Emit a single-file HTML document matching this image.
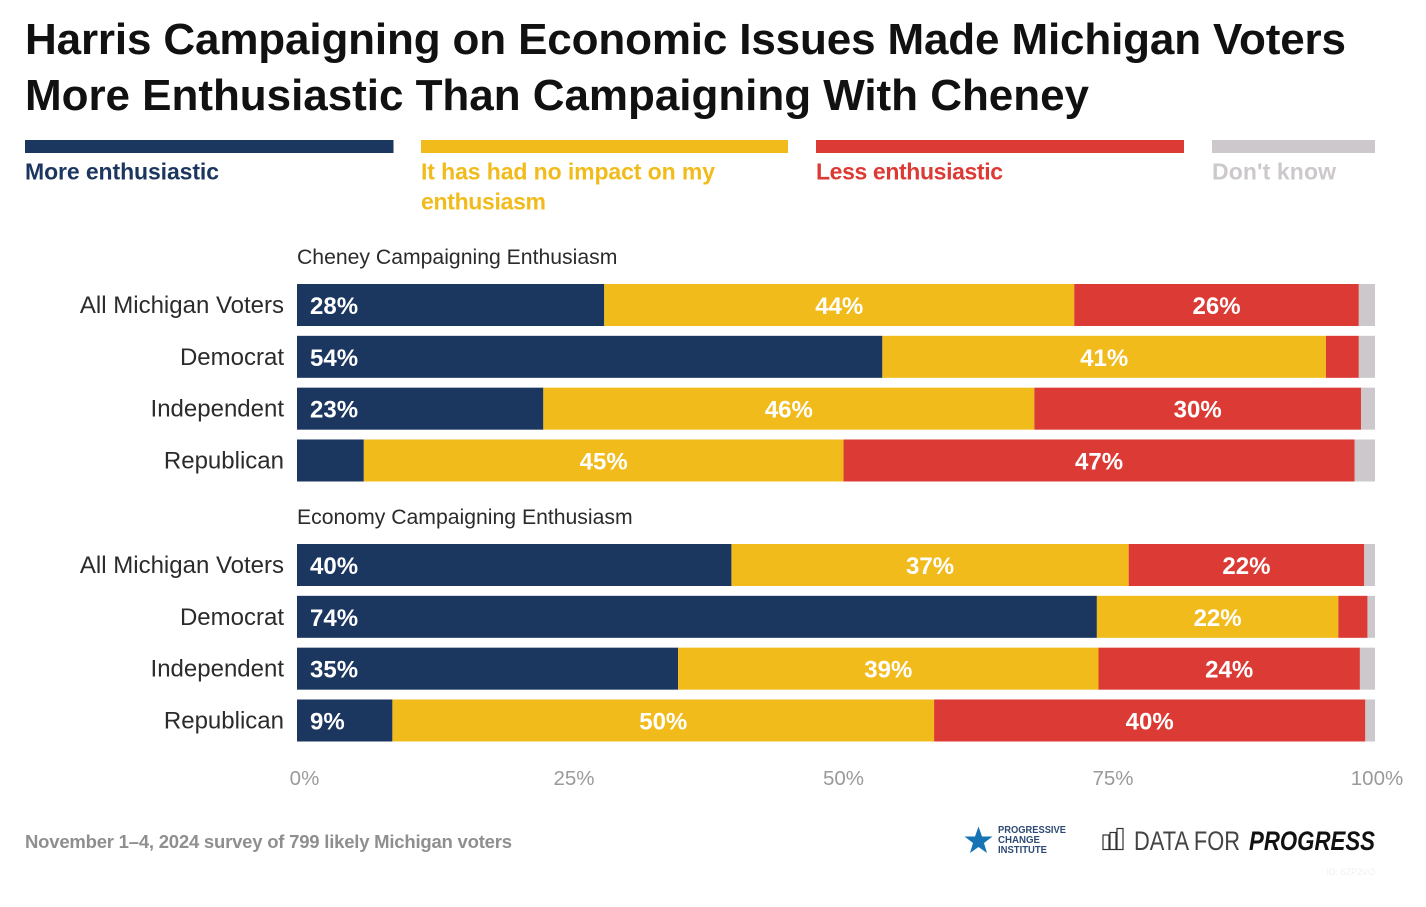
<!DOCTYPE html>
<html lang="en">
<head>
<meta charset="utf-8">
<title>Harris Campaigning on Economic Issues Made Michigan Voters More Enthusiastic</title>
<style>
html,body{margin:0;padding:0;background:#fff;width:1426px;height:907px;overflow:hidden}
svg{display:block;filter:blur(0.35px)}
text{font-family:"Liberation Sans",sans-serif}
</style>
</head>
<body>
<svg id="chart" xmlns="http://www.w3.org/2000/svg" width="1426" height="907" viewBox="0 0 1426 907">
  <rect width="1426" height="907" fill="#fff"/>
  <g font-size="44" font-weight="700" fill="#111">
    <text x="25" y="54" textLength="1321" lengthAdjust="spacing">Harris Campaigning on Economic Issues Made Michigan Voters</text>
    <text x="25" y="110" textLength="1064" lengthAdjust="spacing">More Enthusiastic Than Campaigning With Cheney</text>
  </g>
  <g font-size="23" font-weight="700">
    <g>
      <rect x="25" y="140" width="368.500" height="13" fill="#1b365f"/>
      <text x="25" y="179.500" fill="#1b365f" textLength="194" lengthAdjust="spacing">More enthusiastic</text>
    </g>
    <g>
      <rect x="421" y="140" width="367" height="13" fill="#f2bb1c"/>
      <text x="421" y="179.500" fill="#f2bb1c" textLength="294" lengthAdjust="spacing">It has had no impact on my</text>
      <text x="421" y="209.500" fill="#f2bb1c" textLength="125" lengthAdjust="spacing">enthusiasm</text>
    </g>
    <g>
      <rect x="816" y="140" width="368" height="13" fill="#dc3a34"/>
      <text x="816" y="179.500" fill="#dc3a34" textLength="187" lengthAdjust="spacing">Less enthusiastic</text>
    </g>
    <g>
      <rect x="1212" y="140" width="163" height="13" fill="#ccc8cc"/>
      <text x="1212" y="179.500" fill="#ccc8cc" textLength="124" lengthAdjust="spacing">Don't know</text>
    </g>
  </g>
  <g id="plot"></g>
  <text x="25" y="848" font-size="18.500" font-weight="700" fill="#8f8f8f" textLength="487" lengthAdjust="spacing">November 1–4, 2024 survey of 799 likely Michigan voters</text>
  <g>
    <polygon points="978.500,826.500 982,836.500 992.500,836.500 984,843 987,853 978.500,847 970,853 973,843 964.500,836.500 975,836.500" fill="#1674b4"/>
    <g font-size="10" font-weight="700" fill="#2d4a74">
      <text x="998" y="833" textLength="68" lengthAdjust="spacingAndGlyphs">PROGRESSIVE</text>
      <text x="998" y="843" textLength="42" lengthAdjust="spacingAndGlyphs">CHANGE</text>
      <text x="998" y="853" textLength="49" lengthAdjust="spacingAndGlyphs">INSTITUTE</text>
    </g>
  </g>
  <g>
    <g fill="none" stroke="#333" stroke-width="1.200">
      <rect x="1103" y="835" width="6" height="14.500"/>
      <rect x="1110" y="832.500" width="6" height="17"/>
      <rect x="1117" y="828.500" width="6" height="21"/>
    </g>
    <text x="1134" y="850" font-size="27" fill="#444" textLength="106" lengthAdjust="spacingAndGlyphs">DATA FOR</text>
    <text x="1249" y="850" font-size="27" font-weight="700" font-style="italic" fill="#111" textLength="126" lengthAdjust="spacingAndGlyphs">PROGRESS</text>
  </g>
  <text x="1375" y="875" font-size="9" text-anchor="end" fill="#f0f0f0">ID: 6ZP2VO</text>
</svg>
<script>
const groupTitles = ["Cheney Campaigning Enthusiasm", "Economy Campaigning Enthusiasm"];
const categories = ["All Michigan Voters", "Democrat", "Independent", "Republican"];
const tickValues = [0, 25, 50, 75, 100];
const tickLabels = ["0%", "25%", "50%", "75%", "100%"];

const moreEnthusiastic = [28.5, 54.3, 22.85, 6.2, 40.3, 74.2, 35.35, 8.85];
const noImpact = [43.6, 41.15, 45.55, 44.5, 36.85, 22.4, 39.0, 50.25];
const lessEnthusiastic = [26.4, 3.05, 30.3, 47.4, 21.85, 2.7, 24.25, 40.0];
const dontKnow = [1.5, 1.5, 1.3, 1.9, 1.0, 0.7, 1.4, 0.9];

const moreLabels = ["28%", "54%", "23%", "", "40%", "74%", "35%", "9%"];
const noImpactLabels = ["44%", "41%", "46%", "45%", "37%", "22%", "39%", "50%"];
const lessLabels = ["26%", "", "30%", "47%", "22%", "", "24%", "40%"];

const NS = "http://www.w3.org/2000/svg";
const plot = document.getElementById("plot");
const plotLeft = 297;
const plotRight = 1375;
const barHeight = 42;
const rowStep = 51.83;
const groupTops = [284, 544];

function xScale(v) {
  return plotLeft + (plotRight - plotLeft) * v / 100;
}
function rowTop(groupIndex, rowIndex) {
  return groupTops[groupIndex] + rowStep * rowIndex;
}
function addText(parent, x, y, str, size, weight, fill, anchor) {
  const t = document.createElementNS(NS, "text");
  t.setAttribute("x", x);
  t.setAttribute("y", y);
  t.setAttribute("font-size", size);
  t.setAttribute("font-weight", weight);
  t.setAttribute("fill", fill);
  t.setAttribute("text-anchor", anchor);
  t.textContent = str;
  parent.appendChild(t);
  return t;
}

const seriesNames = ["more-enthusiastic", "no-impact", "less-enthusiastic", "dont-know"];
const seriesColors = ["#1b365f", "#f2bb1c", "#dc3a34", "#ccc8cc"];
const seriesValues = [moreEnthusiastic, noImpact, lessEnthusiastic, dontKnow];
const seriesLabels = [moreLabels, noImpactLabels, lessLabels, null];

groupTitles.forEach(function (title, g) {
  const group = document.createElementNS(NS, "g");
  
  
  plot.appendChild(group);

  const heading = addText(group, plotLeft, groupTops[g] - 20, title, 21.2, 400, "#2b2b2b", "start");
  
  

  categories.forEach(function (cat, r) {
    const idx = g * categories.length + r;
    const top = rowTop(g, r);
    const label = addText(group, plotLeft - 13, top + 29, cat, 24, 400, "#2b2b2b", "end");
    
    

    let cum = 0;
    seriesValues.forEach(function (vals, s) {
      const x0 = xScale(cum);
      const x1 = xScale(cum + vals[idx]);
      const rect = document.createElementNS(NS, "rect");
      rect.setAttribute("x", x0);
      rect.setAttribute("y", top);
      rect.setAttribute("width", Math.max(0, x1 - x0));
      rect.setAttribute("height", barHeight);
      rect.setAttribute("fill", seriesColors[s]);
      
      
      group.appendChild(rect);

      const labels = seriesLabels[s];
      if (labels && labels[idx]) {
        const isFirst = s === 0;
        const lx = isFirst ? x0 + 13 : (x0 + x1) / 2;
        const val = addText(group, lx, top + 30, labels[idx], 24, 700, "#fff", isFirst ? "start" : "middle");
        
        
      }
      cum += vals[idx];
    });
  });
});

const axis = document.createElementNS(NS, "g");


plot.appendChild(axis);
tickValues.forEach(function (t, i) {
  const isLast = i === tickValues.length - 1;
  const tx = xScale(t) + (isLast ? 2 : 7.5);
  const tick = addText(axis, tx, 785, tickLabels[i], 20.5, 400, "#9a9a9a", "middle");
  
  
});
</script>
</body>
</html>
